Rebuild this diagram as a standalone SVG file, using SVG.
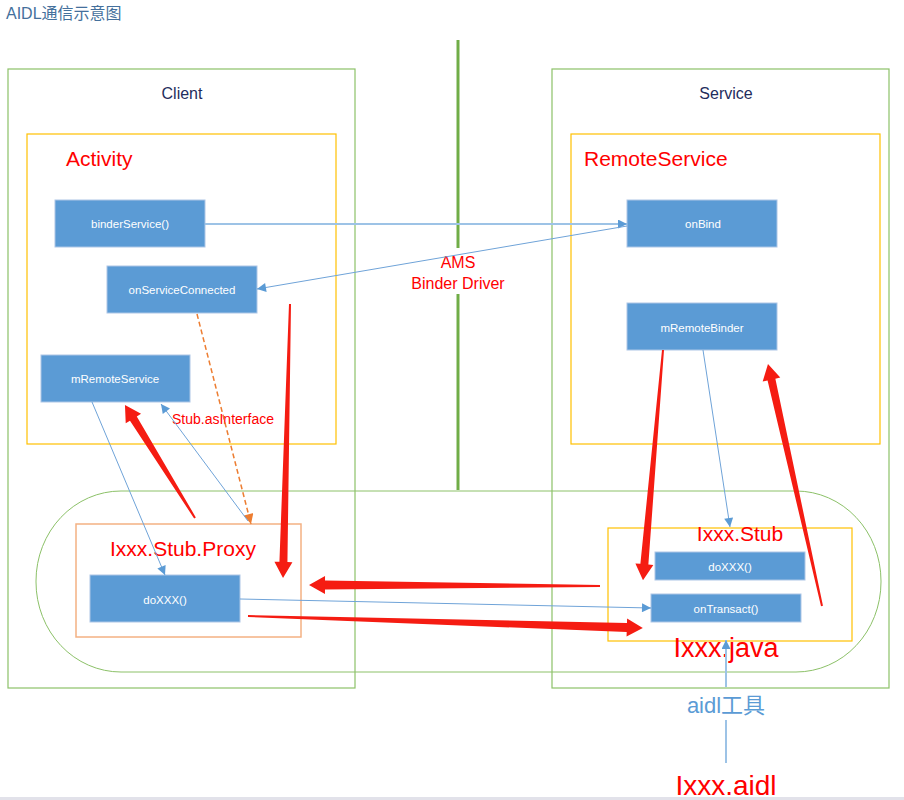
<svg xmlns="http://www.w3.org/2000/svg" width="904" height="800" viewBox="0 0 904 800">
<style>
.frame{fill:none;stroke:#8cc168;stroke-width:1.2}
.yel{fill:none;stroke:#ffc000;stroke-width:1.2}
.org{fill:none;stroke:#f4b183;stroke-width:1.5}
.node{fill:#5b9bd5;stroke:#adc6e6;stroke-width:1}
.nt{font-family:"Liberation Sans",Arial,sans-serif;font-size:11.5px;fill:#ffffff;text-anchor:middle;dominant-baseline:central}
.hd{font-family:"Liberation Sans",Arial,sans-serif;font-size:16px;fill:#1f2d5c;text-anchor:middle}
.rt{font-family:"Liberation Sans",Arial,sans-serif;fill:#ff0000}
.thin{fill:none;stroke:#6fa3d8;stroke-width:1;marker-end:url(#ab)}
.ra{fill:#f51c12}
</style>
<defs>
<marker id="ab" viewBox="0 0 10 10" refX="10" refY="5" markerWidth="11" markerHeight="9" markerUnits="userSpaceOnUse" orient="auto"><path d="M0,0 L10,5 L0,10 z" fill="#5b9bd5"/></marker>
<marker id="ao" viewBox="0 0 10 10" refX="10" refY="5" markerWidth="12" markerHeight="10" markerUnits="userSpaceOnUse" orient="auto"><path d="M0,0 L10,5 L0,10 z" fill="#ed7d31"/></marker>
</defs>
<rect width="904" height="800" fill="#ffffff"/>
<text x="6" y="19" font-family="'Liberation Sans','Noto Sans CJK SC',sans-serif" font-size="16" fill="#44709c">AIDL通信示意图</text>

<g id="client">
<rect class="frame" x="8" y="69" width="347" height="619"/>
<text class="hd" x="182" y="99">Client</text>
</g>
<g id="service">
<rect class="frame" x="552" y="69" width="337" height="619"/>
<text class="hd" x="726" y="99">Service</text>
</g>
<g id="divider">
<line x1="458" y1="40" x2="458" y2="248" stroke="#70ad47" stroke-width="3"/>
<line x1="458" y1="294" x2="458" y2="490" stroke="#70ad47" stroke-width="3"/>
</g>
<g id="activity">
<rect class="yel" x="27" y="134" width="309" height="310"/>
<text class="rt" x="66" y="166" font-size="21">Activity</text>
</g>
<g id="remoteservice">
<rect class="yel" x="571" y="134" width="309" height="310"/>
<text class="rt" x="584" y="166" font-size="21">RemoteService</text>
</g>
<g id="capsule">
<rect x="36" y="491" width="845" height="181" rx="85" ry="90" fill="none" stroke="#8cc168" stroke-width="1"/>
</g>
<g id="proxy">
<rect class="org" x="76" y="524" width="225" height="113"/>
<text class="rt" x="110" y="556" font-size="21">Ixxx.Stub.Proxy</text>
</g>
<g id="stub">
<rect class="yel" x="608" y="528" width="244" height="113"/>
<text class="rt" x="740" y="541" font-size="21" text-anchor="middle">Ixxx.Stub</text>
</g>

<g id="binderService"><rect class="node" x="55" y="200" width="150" height="47"/><text class="nt" x="130" y="224">binderService()</text></g>
<g id="onServiceConnected"><rect class="node" x="107" y="266" width="150" height="47"/><text class="nt" x="182" y="290">onServiceConnected</text></g>
<g id="mRemoteService"><rect class="node" x="41" y="355" width="149" height="47"/><text class="nt" x="115" y="379">mRemoteService</text></g>
<g id="onBind"><rect class="node" x="627" y="200" width="150" height="47"/><text class="nt" x="703" y="224">onBind</text></g>
<g id="mRemoteBinder"><rect class="node" x="627" y="303" width="150" height="47"/><text class="nt" x="702" y="328">mRemoteBinder</text></g>
<g id="proxyDoXXX"><rect class="node" x="90" y="575" width="150" height="47"/><text class="nt" x="165" y="600">doXXX()</text></g>
<g id="stubDoXXX"><rect class="node" x="655" y="552" width="150" height="28"/><text class="nt" x="730" y="567">doXXX()</text></g>
<g id="onTransact"><rect class="node" x="651" y="594" width="150" height="28"/><text class="nt" x="726" y="609">onTransact()</text></g>

<g id="labels">
<text class="rt" x="458" y="268" font-size="16" text-anchor="middle">AMS</text>
<text class="rt" x="458" y="289" font-size="16" text-anchor="middle">Binder Driver</text>
<text class="rt" x="172" y="424" font-size="14">Stub.asInterface</text>
<text class="rt" x="726" y="657" font-size="27" text-anchor="middle">Ixxx.java</text>
<text x="726" y="713" font-family="'Liberation Sans','Noto Sans CJK SC',sans-serif" font-size="22" fill="#5b9bd5" text-anchor="middle">aidl工具</text>
<text class="rt" x="726" y="795" font-size="28" text-anchor="middle">Ixxx.aidl</text>
</g>

<g id="connectors">
<line x1="205" y1="224" x2="627" y2="224" stroke="#9dc3e6" stroke-width="2" marker-end="url(#ab)"/>
<line class="thin" x1="627" y1="226" x2="257" y2="289"/>
<line x1="197" y1="314" x2="251" y2="524" stroke="#ed7d31" stroke-width="1.5" stroke-dasharray="5,3" marker-end="url(#ao)"/>
<line class="thin" x1="92" y1="402" x2="165" y2="575"/>
<line class="thin" x1="248" y1="521" x2="161" y2="404"/>
<line class="thin" x1="240" y1="599" x2="651" y2="608"/>
<line class="thin" x1="703" y1="350" x2="730" y2="527"/>
<line x1="726" y1="763" x2="726" y2="720" stroke="#9dc3e6" stroke-width="2"/>
<line x1="726" y1="687" x2="726" y2="640" stroke="#9dc3e6" stroke-width="2" marker-end="url(#ab)"/>

<polygon class="ra" points="0,-1 117,-4 117,-9 133,0 117,9 117,4 0,1" transform="translate(195,518) rotate(-121.78)"/>
<polygon class="ra" points="0,-1 258,-4 258,-9 274,0 258,9 258,4 0,1" transform="translate(290,304) rotate(91.46)"/>
<polygon class="ra" points="0,-1 275,-4.5 275,-9 291,0 275,9 275,4.5 0,1" transform="translate(600,586) rotate(180.2)"/>
<polygon class="ra" points="0,-1 379,-4.5 379,-9 395,0 379,9 379,4.5 0,1" transform="translate(248,616) rotate(1.74)"/>
<polygon class="ra" points="0,-1 215,-4 215,-9 231,0 215,9 215,4 0,1" transform="translate(663,350) rotate(94.97)"/>
<polygon class="ra" points="0,-1 232,-4 232,-9 248,0 232,9 232,4 0,1" transform="translate(822,606) rotate(-102.58)"/>
</g>
<rect x="0" y="797" width="904" height="3" fill="#e2e2ea"/>
</svg>
